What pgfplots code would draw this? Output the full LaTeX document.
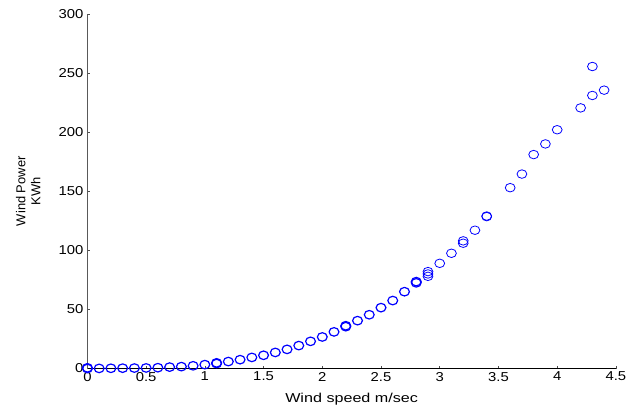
\documentclass[border=0pt]{standalone}
\usepackage{fontspec}
\setmainfont{Liberation Sans}
\usepackage{pgfplots}
\pgfplotsset{compat=1.18}

\begin{document}
\begin{tikzpicture}
\begin{axis}[
    scale only axis,
    width=532pt, height=357pt,
    xmin=0, xmax=4.5, ymin=0, ymax=300,
    xtick={0,0.5,...,4.5},
    ytick={0,50,...,300},
    axis lines*=left,
    x axis line style={black},
    y axis line style={black!65},
    tick align=inside,
    major tick length=3pt,
    tick style={black!70, line width=0.6pt},
    /pgf/number format/assume math mode=true,
    ticklabel style={font=\fontsize{13}{15}\selectfont, xscale=1.15},
    xlabel={Wind speed m/sec},
    xlabel style={font=\fontsize{13}{15}\selectfont, xscale=1.25, yshift=-5pt},
    ylabel={Wind Power\\KWh},
    ylabel style={font=\fontsize{13}{15}\selectfont, align=center, yshift=11pt},
    clip=false,
]
% dense part of the curve, drawn with heavier circles as in the source
\addplot[only marks, mark=o, mark size=4.3pt, blue,
    mark options={xscale=1.15, line width=1.2pt}] coordinates {
    (0,0) (0,0.6) (0.1,0.1) (0.2,0.2) (0.3,0.3) (0.4,0.4) (0.5,0.5) (0.6,0.7)
    (0.7,1.2) (0.8,1.6) (0.9,2.3) (1.0,3.3) (1.1,4.2) (1.1,4.8) (1.2,5.9)
    (1.3,7.5) (1.4,9.4) (1.5,11.2) (1.6,13.6) (1.7,16.2) (1.8,19.4)
    (1.9,23) (2.0,26.7) (2.1,31) (2.2,35.4) (2.2,36.2) (2.3,40.5)
    (2.4,45.5) (2.5,51.5) (2.6,57.5) (2.7,65) (2.8,72.5) (2.8,73.5)
};
\addplot[only marks, mark=o, mark size=4.3pt, blue,
    mark options={xscale=1.15, line width=0.8pt}] coordinates {
    (2.9,78) (2.9,80) (2.9,82) (3.0,89) (3.1,97.5) (3.2,106) (3.2,108)
    (3.3,117) (3.4,128.5) (3.4,129)
    (3.6,153) (3.7,164.5) (3.8,181) (3.9,190) (4.0,202) (4.2,220.5)
    (4.3,231) (4.3,255.5) (4.4,235.5)
};
\end{axis}
\path ([xshift=-88pt,yshift=-39pt]current axis.south west) rectangle ([xshift=10pt,yshift=14pt]current axis.north east);
\end{tikzpicture}
\end{document}
